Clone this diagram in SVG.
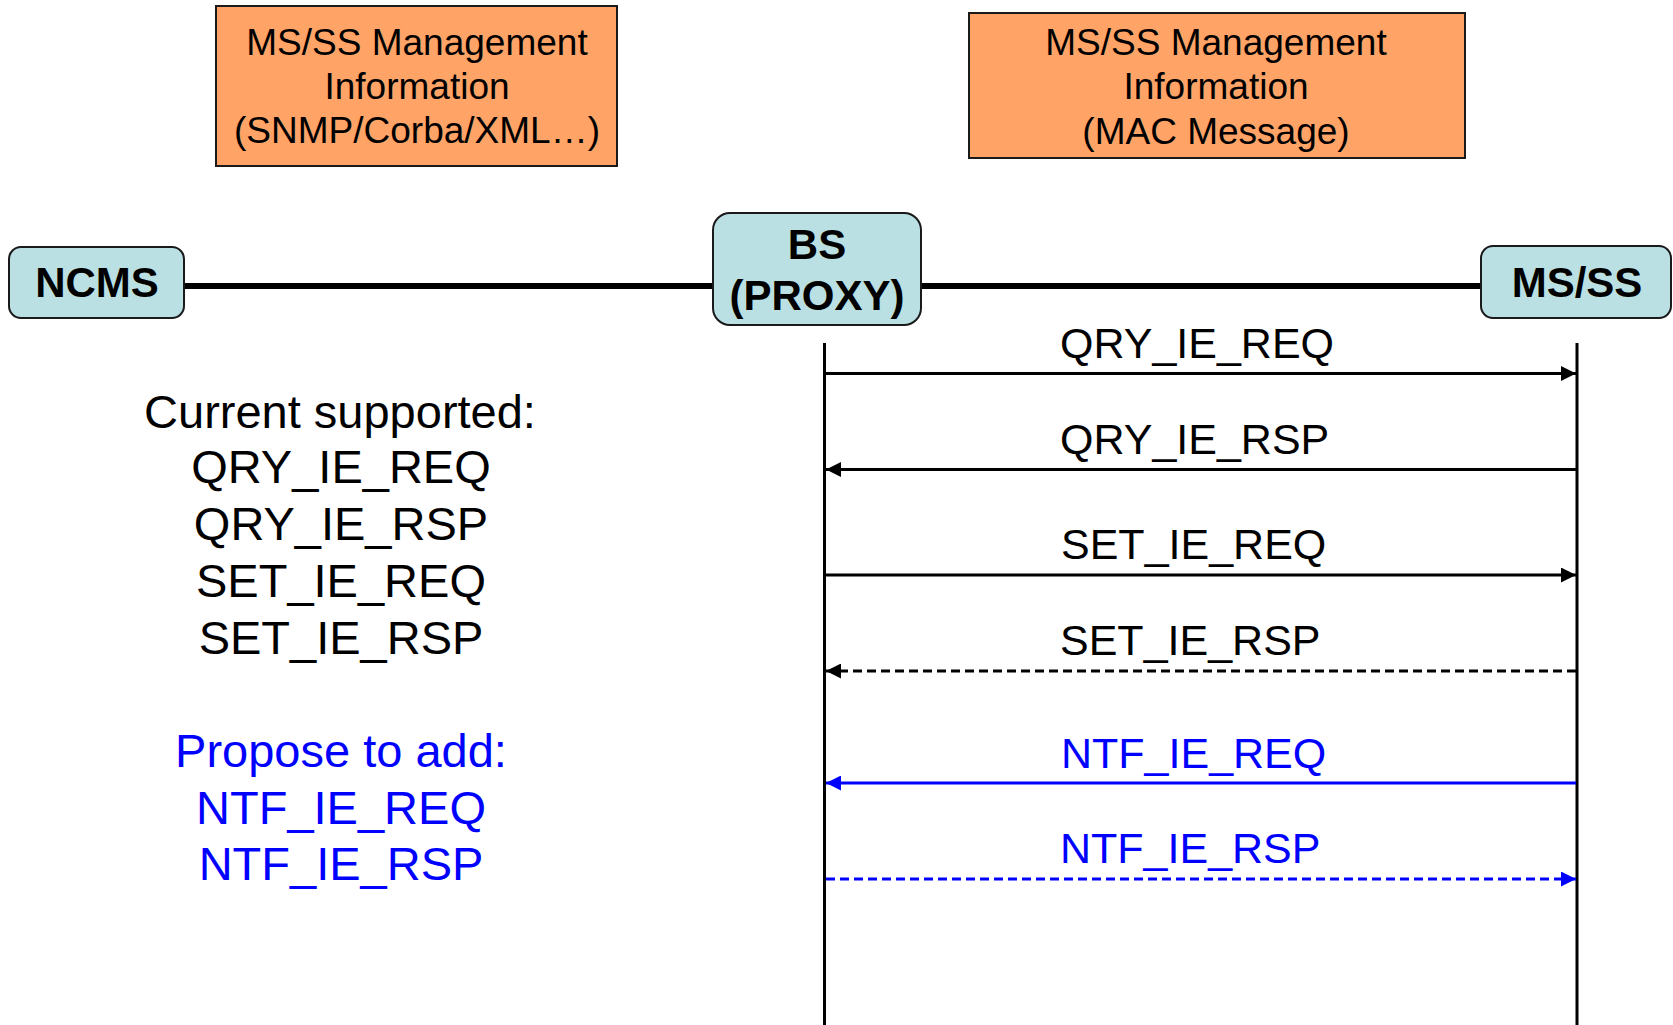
<svg xmlns="http://www.w3.org/2000/svg" width="1673" height="1025" viewBox="0 0 1673 1025">
<style>
  .note { fill: #FFA366; stroke: #1a1a1a; stroke-width: 2; }
  .ent { fill: #BAE0E3; stroke: #1a1a1a; stroke-width: 2; }
  .nt { font-family: "Liberation Sans", Arial, sans-serif; font-size: 37px; fill: #000; text-anchor: middle; }
  .et { font-family: "Liberation Sans", Arial, sans-serif; font-size: 42px; font-weight: bold; fill: #000; text-anchor: middle; }
  .lt { font-family: "Liberation Sans", Arial, sans-serif; font-size: 47px; text-anchor: middle; }
  .ml { font-family: "Liberation Sans", Arial, sans-serif; font-size: 43px; fill: #000; }
  .blue { fill: #0000FF; }
  .life { stroke: #000; stroke-width: 3; fill: none; }
  .link { stroke: #000; stroke-width: 6; fill: none; }
  .msg { stroke: #000; stroke-width: 3; fill: none; }
  .msgb { stroke: #0000FF; stroke-width: 3; fill: none; }
  .dash { stroke-dasharray: 9 5; }
</style>
<defs>
  <marker id="ah" viewBox="0 0 10 10" refX="10" refY="5" markerWidth="5" markerHeight="5" markerUnits="strokeWidth" orient="auto">
    <path d="M0,0 L10,5 L0,10 z" fill="#000"/>
  </marker>
  <marker id="ahb" viewBox="0 0 10 10" refX="10" refY="5" markerWidth="5" markerHeight="5" markerUnits="strokeWidth" orient="auto">
    <path d="M0,0 L10,5 L0,10 z" fill="#0000FF"/>
  </marker>
</defs>

<g id="note-ncms">
  <rect class="note" x="216" y="6" width="401" height="160"/>
  <text class="nt" x="417" y="55">MS/SS Management</text>
  <text class="nt" x="417" y="99">Information</text>
  <text class="nt" x="417" y="143">(SNMP/Corba/XML…)</text>
</g>
<g id="note-mac">
  <rect class="note" x="969" y="13" width="496" height="145"/>
  <text class="nt" x="1216" y="55">MS/SS Management</text>
  <text class="nt" x="1216" y="99">Information</text>
  <text class="nt" x="1216" y="144">(MAC Message)</text>
</g>

<g id="connectors">
  <line class="link" x1="184" y1="286" x2="713" y2="286"/>
  <line class="link" x1="921" y1="286" x2="1481" y2="286"/>
  <line class="life" x1="824.5" y1="343" x2="824.5" y2="1025"/>
  <line class="life" x1="1577" y1="343" x2="1577" y2="1025"/>
  <line class="msg" x1="826" y1="373.5" x2="1576" y2="373.5" marker-end="url(#ah)"/>
  <line class="msg" x1="1576" y1="469.5" x2="826" y2="469.5" marker-end="url(#ah)"/>
  <line class="msg" x1="826" y1="575" x2="1576" y2="575" marker-end="url(#ah)"/>
  <line class="msg dash" x1="1576" y1="671" x2="826" y2="671" marker-end="url(#ah)"/>
  <line class="msgb" x1="1576" y1="783" x2="826" y2="783" marker-end="url(#ahb)"/>
  <line class="msgb dash" x1="826" y1="879" x2="1576" y2="879" marker-end="url(#ahb)"/>
  <text class="ml" x="1060" y="358">QRY_IE_REQ</text>
  <text class="ml" x="1060" y="454">QRY_IE_RSP</text>
  <text class="ml" x="1061" y="559">SET_IE_REQ</text>
  <text class="ml" x="1060" y="655">SET_IE_RSP</text>
  <text class="ml blue" x="1061" y="768">NTF_IE_REQ</text>
  <text class="ml blue" x="1060" y="863">NTF_IE_RSP</text>
</g>

<g id="ncms">
  <rect class="ent" x="9" y="247" width="175" height="71" rx="12"/>
  <text class="et" x="97" y="297">NCMS</text>
</g>
<g id="bs">
  <rect class="ent" x="713" y="213" width="208" height="112" rx="17"/>
  <text class="et" x="817" y="259">BS</text>
  <text class="et" x="817" y="310">(PROXY)</text>
</g>
<g id="msss">
  <rect class="ent" x="1481" y="246" width="190" height="72" rx="12"/>
  <text class="et" x="1577" y="297">MS/SS</text>
</g>

<g id="legend">
  <text class="lt" x="340" y="428">Current supported:</text>
  <text class="lt" x="341" y="483">QRY_IE_REQ</text>
  <text class="lt" x="341" y="540">QRY_IE_RSP</text>
  <text class="lt" x="341" y="597">SET_IE_REQ</text>
  <text class="lt" x="341" y="654">SET_IE_RSP</text>
  <text class="lt blue" x="341" y="767">Propose to add:</text>
  <text class="lt blue" x="341" y="824">NTF_IE_REQ</text>
  <text class="lt blue" x="341" y="880">NTF_IE_RSP</text>
</g>
</svg>
